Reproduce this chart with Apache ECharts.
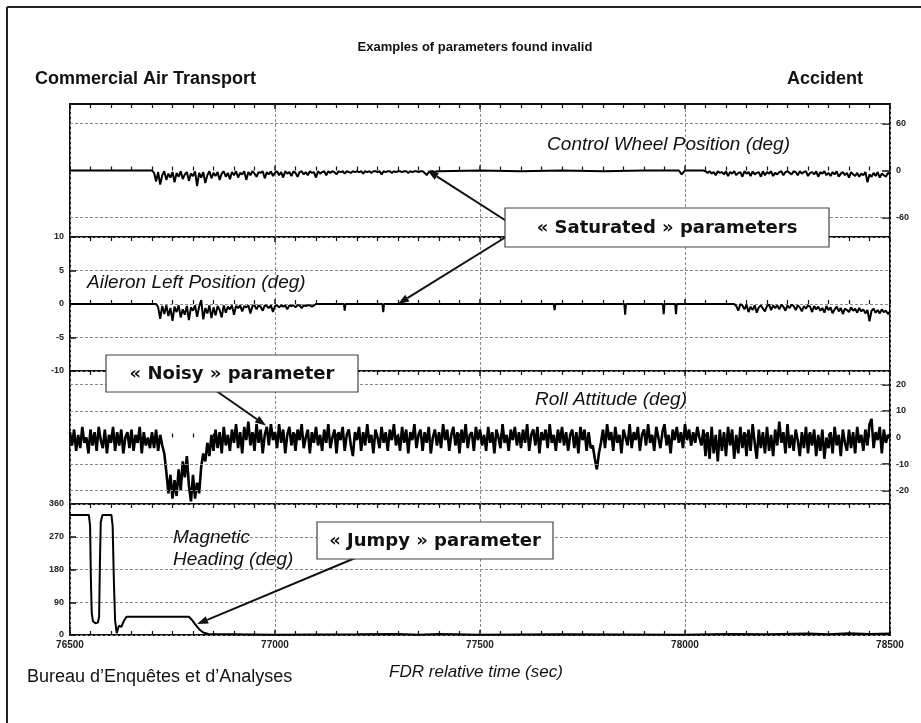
<!DOCTYPE html>
<html><head><meta charset="utf-8">
<script src="https://cdn.jsdelivr.net/npm/echarts@6/dist/echarts.min.js"></script>
<style>html,body{margin:0;padding:0;background:#fff;}#c{width:921px;height:723px;}</style>
</head><body><div id="c"></div>
<script>
// ---------- DATA ----------
const timeMin = 76500, timeMax = 78500, timeStep = 500;
const timeTicks = [76500, 77000, 77500, 78000, 78500];

const cwTicks = [-60, 0, 60];
const alTicks = [-10, -5, 0, 5, 10];
const rollTicks = [-20, -10, 0, 10, 20];
const hdgTicks = [0, 90, 180, 270, 360];

// Control Wheel Position (deg)
const cwFlatA = [[76500, 0], [76700, 0]];
const cwNoise1Start = 76705;
const cwNoise1 = [
  -3,-14,-2,-18,-6,-1,-12,-4,-9,-2,-15,-3,-8,-1,-11,-5,-2,-13,-4,-7,
  -1,-20,-3,-9,-2,-16,-6,-1,-10,-3,-7,-2,-12,-4,-1,-8,-3,-11,-2,-6,
  -1,-9,-3,-5,-1,-12,-2,-6,-1,-4,-8,-2,-3,-1,-10,-2,-5,-1,-7,-3,
  -1,-6,-2,-9,-1,-4,-2,-7,-1,-3,-8,-2,-1,-5,-2,-6,-1,-3,-2,-9,
  -1,-4,-2,-1,-6,-1,-3,-1,-2,-5,-1,-2,-1,-4,-1,-2,-3,-1,-2,-1,
  -2,-1,-4,-1,-2,-1,-3,-1,-1,-2,-1,-5,-1,-2,-1,-1,-3,-1,-2,-1,
  -1,-2,-1,-1,-3,-1,-2,-1,-1,-2,-1,-1,-3,-6,-2,-1,-1,-2,-1
];
const cwFlatB = [[77400,-1],[77500,0],[77600,-1],[77700,0],[77800,-1],[77900,0],[77985,0],[77992,-5],[78000,0],[78045,0]];
const cwNoise2Start = 78050;
const cwNoise2 = [
  -1,-3,-1,-4,-2,-6,-1,-3,-2,-5,-1,-7,-2,-4,-1,-6,-3,-2,-8,-1,
  -4,-2,-7,-1,-5,-3,-2,-8,-1,-6,-2,-4,-1,-7,-3,-5,-2,-1,-6,-2,
  -1,-3,-5,-1,-2,-6,-1,-4,-2,-1,-7,-3,-2,-5,-1,-8,-2,-4,-1,-6,
  -3,-7,-2,-5,-1,-8,-4,-2,-6,-3,-9,-2,-5,-7,-3,-8,-4,-6,-2,-15,
  -5,-8,-3,-7,-2,-9,-4,-6,-8,-3,-5
];

// Aileron Left Position (deg)
const alFlatA = [[76500, 0], [76710, 0]];
const alNoise1Start = 76715;
const alNoise1 = [
  -0.5,-2.2,-0.3,-1.5,-0.2,-1.8,-0.6,-2.5,-0.4,-1.2,-0.2,-2.0,-0.8,-1.6,-0.3,-2.4,-0.5,-1.0,-0.2,-1.9,
  -0.4,0.6,-2.3,-0.6,-1.4,-0.2,-2.1,-0.5,-1.7,-0.3,-0.9,-2.0,-0.2,-1.3,-0.4,-0.8,-0.2,-1.6,-0.3,-0.6,
  -0.2,-1.1,-0.3,-0.5,-0.2,-1.4,-0.3,-0.2,-0.8,-0.2,-0.4,-1.0,-0.2,-0.3,-0.6,-0.2,-1.2,-0.3,-0.2,-0.5,
  -0.2,-0.4,-0.2,-0.8,-0.2,-0.3,-0.2,-0.5,-0.2,-0.2,-0.6,-0.2,-0.3,-0.2,-0.2,-0.4,-0.2,0
];
const alSpikes = [[77105,0],[77168,0],[77170,-1.0],[77172,0],[77262,0],[77264,-1.2],[77266,0],[77680,0],[77682,-0.9],[77684,0],
  [77852,0],[77854,-1.6],[77856,0],[77946,0],[77948,-1.5],[77950,0],[77976,0],[77978,-1.5],[77980,0],[78120,0]];
const alNoise2Start = 78125;
const alNoise2 = [
  -0.3,-1.0,0,-0.2,-0.8,-0.1,-1.2,-0.4,-0.9,-0.2,-1.3,-0.5,-0.2,-0.7,-1.1,-0.3,-0.1,-0.9,-0.2,-0.6,
  -0.2,-0.8,-0.1,-0.4,-1.0,-0.2,-0.6,-0.1,-0.3,-0.9,-0.2,-0.5,-1.1,-0.3,-0.7,-0.2,-0.4,-1.2,-0.3,-0.8,
  -0.4,-1.0,-0.6,-1.3,-0.3,-0.9,-0.5,-1.4,-0.8,-0.4,-1.1,-0.6,-1.5,-0.7,-0.9,-1.2,-0.5,-1.0,-0.7,-1.3,
  -0.6,-1.1,-0.8,-1.4,-0.9,-2.6,-1.0,-0.7,-1.3,-0.9,-1.4,-0.8,-1.2,-1.0,-1.5,-1.1
];

// Roll Attitude (deg), one sample every 5 s from 76500
const rollStart = 76500;
const rollValues = [
  2,-3,3,-5,1,-4,4,-2,0,-6,3,-3,2,-5,4,-1,-4,3,-6,1,
  -2,4,-5,2,-3,3,-6,0,2,-4,3,-5,1,-2,4,-6,2,-3,0,-4,
  2,-4,3,-5,1,-3,-6,-13,-21,-14,-23,-16,-22,-12,-20,-9,-15,-7,-18,-24,
  -14,-23,-17,-21,-11,-6,-9,-2,-7,1,-5,3,-4,2,-6,4,-3,1,-5,3,
  -2,5,-4,2,-6,4,-1,6,-3,2,-5,5,-2,3,-6,1,4,-3,5,-1,
  2,-4,5,-2,3,-6,1,4,-3,2,-5,3,-1,5,-4,0,3,-6,2,-2,
  4,-3,1,-5,3,-2,5,-4,0,3,-6,2,-1,4,-5,1,3,-3,-7,2,
  -1,4,-5,2,-3,5,-2,1,-6,3,0,-4,4,-2,2,-5,3,-1,5,-3,
  1,-5,4,-2,3,-6,2,-1,5,-4,1,3,-5,2,-2,4,-6,0,3,-3,
  2,-4,5,-1,3,-5,1,4,-3,2,-6,3,-2,5,-4,1,2,-5,4,-1,
  3,-3,1,-5,4,-2,2,-6,3,0,-4,5,-2,1,-5,3,-1,4,-3,2,
  -4,3,-2,5,-5,1,3,-3,4,-6,2,-1,3,-4,5,-2,1,-5,3,-2,
  4,-3,2,-5,1,3,-4,2,-6,4,-1,3,-5,2,-4,-3,-8,-12,-6,-2,
  3,-4,5,-1,2,-5,4,-2,1,-6,3,0,-3,5,-4,2,-1,4,-5,1,
  3,-3,5,-2,1,-5,4,0,-4,2,5,-3,1,-6,3,-1,4,-2,2,-4,
  5,-1,3,-3,2,-2,4,0,-3,3,-7,2,-8,4,-6,1,-9,3,-5,2,
  -7,4,-3,3,-8,1,-6,4,-4,2,-7,3,-5,5,-2,-8,3,-4,2,-6,
  4,-5,1,-7,3,-3,6,-2,2,-6,5,-4,1,-5,3,-1,-7,2,-4,4,
  -6,2,-3,3,-7,1,-5,3,-8,0,-4,2,-6,4,-3,1,-7,3,-2,-5,
  3,-4,2,-6,4,-2,1,-5,3,-3,5,7,-4,2,-1,4,-6,3,-2,1,
  0
];

// Magnetic Heading (deg)
const hdgData = [[76500,330],[76546,330],[76549,300],[76551,150],[76553,60],[76556,38],[76562,32],[76568,34],[76571,50],
  [76573,200],[76575,310],[76579,330],[76601,330],[76604,300],[76607,150],[76610,40],[76614,5],[76617,18],[76620,26],
  [76625,22],[76632,40],[76638,50],[76790,50],[76797,42],[76805,30],[76815,16],[76825,7],[76837,3],[77000,1],
  [77200,2],[77300,3],[77350,1],[77400,3],[77500,1],[77700,2],[78000,1],[78100,3],[78200,2],[78300,4],[78350,2],[78400,5],[78450,3],[78500,4]];

// ---------- BUILD ----------
function seg(start, step, values) { return values.map((v, i) => [start + i * step, v]); }
const cwData = [].concat(cwFlatA, seg(cwNoise1Start, 5, cwNoise1), cwFlatB, seg(cwNoise2Start, 5, cwNoise2));
const alData = [].concat(alFlatA, seg(alNoise1Start, 5, alNoise1), alSpikes, seg(alNoise2Start, 5, alNoise2));
const rollData = seg(rollStart, 5, rollValues);

const FONT = '"Liberation Sans", Arial, sans-serif';
const BOXFONT = '"DejaVu Sans", Verdana, sans-serif';
const NARROW = '"Liberation Sans Narrow", "Liberation Sans", Arial, sans-serif';

const grids = [
  {left: 70, right: 31, top: 104, height: 133},
  {left: 70, right: 31, top: 237, height: 134},
  {left: 70, right: 31, top: 371, height: 133},
  {left: 70, right: 31, top: 504, height: 131}
].map(g => Object.assign({show: true, borderColor: '#111', borderWidth: 2, backgroundColor: 'transparent'}, g));

const xAxes = [];
for (let i = 0; i < 4; i++) {
  const base = {type: 'value', gridIndex: i, min: timeMin, max: timeMax, interval: timeStep,
    axisLine: {show: false},
    axisTick: {show: true, inside: true, length: 5, lineStyle: {color: '#111', width: 1.5}},
    minorTick: {show: true, splitNumber: 10, length: 4, lineStyle: {color: '#111', width: 1.2}}};
  xAxes.push(Object.assign({}, base, {position: 'bottom',
    splitLine: {show: true, lineStyle: {color: '#8a8a8a', type: [3, 2], width: 1}},
    axisLabel: {show: i === 3, margin: 5, fontSize: 10, fontWeight: 'bold', color: '#222', fontFamily: NARROW,
      customValues: timeTicks, formatter: v => String(v)}}));
  xAxes.push(Object.assign({}, base, {position: 'top', splitLine: {show: false}, axisLabel: {show: false}}));
}

const yLabel = {fontSize: 9, fontWeight: 'bold', color: '#222', fontFamily: NARROW, margin: 6};
const yAxes = [
  {type: 'value', gridIndex: 0, position: 'right', min: -85, max: 85, axisLine: {show: false}, splitLine: {show: false},
    axisTick: {show: true, inside: true, length: 8, customValues: cwTicks, lineStyle: {color: '#111', width: 1.5}},
    axisLabel: Object.assign({customValues: cwTicks}, yLabel)},
  {type: 'value', gridIndex: 1, position: 'left', min: -10, max: 10, interval: 5, axisLine: {show: false},
    splitLine: {show: true, lineStyle: {color: '#8a8a8a', type: [3, 2], width: 1}},
    axisTick: {show: true, inside: true, length: 6, lineStyle: {color: '#111', width: 1.5}},
    axisLabel: Object.assign({showMinLabel: true, showMaxLabel: true}, yLabel)},
  {type: 'value', gridIndex: 2, position: 'right', min: -25, max: 25, axisLine: {show: false}, splitLine: {show: false},
    axisTick: {show: true, inside: true, length: 8, customValues: rollTicks, lineStyle: {color: '#111', width: 1.5}},
    axisLabel: Object.assign({customValues: rollTicks}, yLabel)},
  {type: 'value', gridIndex: 3, position: 'left', min: 0, max: 360, interval: 90, axisLine: {show: false},
    splitLine: {show: true, lineStyle: {color: '#8a8a8a', type: [3, 2], width: 1}},
    axisTick: {show: true, inside: true, length: 6, lineStyle: {color: '#111', width: 1.5}},
    axisLabel: Object.assign({showMinLabel: true, showMaxLabel: true}, yLabel)}
];

function gridLines(vals) {
  return {silent: true, symbol: 'none', label: {show: false},
    lineStyle: {color: '#8a8a8a', type: [3, 2], width: 1}, data: vals.map(v => ({yAxis: v}))};
}
function lineSeries(i, data, marks, w) {
  const s = {type: 'line', xAxisIndex: 2 * i, yAxisIndex: i, data: data, showSymbol: false, symbol: 'none',
    lineStyle: {color: '#000', width: w || 2}, clip: true, animation: false, z: 3};
  if (marks) s.markLine = gridLines(marks);
  return s;
}

const chart = echarts.init(document.getElementById('c'), null, {renderer: 'canvas'});
chart.setOption({
  backgroundColor: '#fff',
  animation: false,
  grid: grids,
  xAxis: xAxes,
  yAxis: yAxes,
  series: [
    lineSeries(0, cwData, [60, -60]),
    lineSeries(1, alData),
    lineSeries(2, rollData, [20, 10, -10, -20], 2.6),
    lineSeries(3, hdgData)
  ]
});

// ---------- ANNOTATIONS ----------
function px(i, t, v) { return chart.convertToPixel({xAxisIndex: 2 * i, yAxisIndex: i}, [t, v]); }
function arrow(x1, y1, tip) {
  const [x2, y2] = tip;
  const dx = x2 - x1, dy = y2 - y1, L = Math.hypot(dx, dy), ux = dx / L, uy = dy / L;
  const hl = 11, hw = 4;
  const bx = x2 - ux * hl, by = y2 - uy * hl;
  return [
    {type: 'line', z: 10, shape: {x1: x1, y1: y1, x2: bx, y2: by}, style: {stroke: '#111', lineWidth: 2}},
    {type: 'polygon', z: 10, shape: {points: [[x2, y2], [bx - uy * hw, by + ux * hw], [bx + uy * hw, by - ux * hw]]}, style: {fill: '#111'}}
  ];
}
function box(x, y, w, h, text) {
  return [
    {type: 'rect', z: 20, shape: {x: x, y: y, width: w, height: h}, style: {fill: '#fff', stroke: '#444', lineWidth: 1.2}},
    {type: 'text', z: 21, x: x + w / 2, y: y + h / 2 + 1, style: {text: text, fill: '#111', font: 'bold 18px ' + BOXFONT, align: 'center', verticalAlign: 'middle'}}
  ];
}
function txt(x, y, text, font, align) {
  return {type: 'text', z: 15, x: x, y: y, style: {text: text, fill: '#111', font: font, align: align || 'left', verticalAlign: 'middle'}};
}

const g = [];
// frame
g.push({type: 'line', z: 1, shape: {x1: 7, y1: 7, x2: 921, y2: 7}, style: {stroke: '#222', lineWidth: 2}});
g.push({type: 'line', z: 1, shape: {x1: 7, y1: 7, x2: 7, y2: 723}, style: {stroke: '#222', lineWidth: 2}});
// header / footer texts
g.push(txt(475, 47, 'Examples of parameters found invalid', 'bold 13px ' + NARROW, 'center'));
g.push(txt(35, 79, 'Commercial Air Transport', 'bold 18px ' + FONT));
g.push(txt(863, 79, 'Accident', 'bold 18px ' + FONT, 'right'));
g.push(txt(27, 677, 'Bureau d\u2019Enqu\u00eates et d\u2019Analyses', '18px ' + FONT));
g.push(txt(476, 672, 'FDR relative time (sec)', 'italic 17px ' + FONT, 'center'));
// panel labels
g.push(txt(790, 145, 'Control Wheel Position (deg)', 'italic 19px ' + FONT, 'right'));
g.push(txt(87, 283, 'Aileron Left Position (deg)', 'italic 19px ' + FONT));
g.push(txt(687, 400, 'Roll Attitude (deg)', 'italic 19px ' + FONT, 'right'));
g.push(txt(173, 538, 'Magnetic', 'italic 19px ' + FONT));
g.push(txt(173, 560, 'Heading (deg)', 'italic 19px ' + FONT));
// arrows
g.push(...arrow(508, 222, px(0, 77372, 0)));
g.push(...arrow(514, 232, px(1, 77300, 0)));
g.push(...arrow(215, 390, px(2, 76978, 4.5)));
g.push(...arrow(360, 556, px(3, 76810, 30)));
// boxes
g.push(...box(505, 208, 324, 39, '\u00ab Saturated \u00bb parameters'));
g.push(...box(106, 355, 252, 37, '\u00ab Noisy \u00bb parameter'));
g.push(...box(317, 522, 236, 37, '\u00ab Jumpy \u00bb parameter'));

chart.setOption({graphic: {elements: g}});
</script>
</body></html>
